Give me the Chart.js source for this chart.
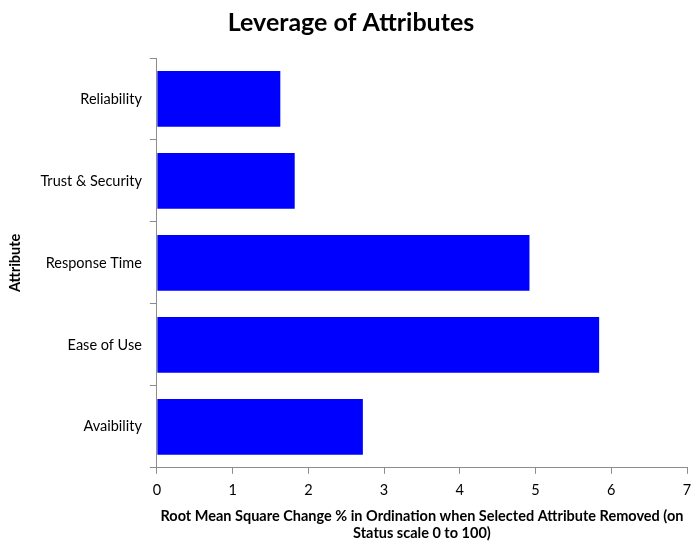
<!DOCTYPE html>
<html>
<head>
<meta charset="utf-8">
<title>Leverage of Attributes</title>
<script src="https://cdn.jsdelivr.net/npm/chart.js@4/dist/chart.umd.min.js"></script>
<style>
  html, body { margin: 0; padding: 0; background: #fff; }
  #wrap { width: 695px; height: 542px; }
</style>
</head>
<body>
<div id="wrap"><canvas id="graficoAtributos"></canvas></div>
<script>
var atributos = ['Reliability', 'Trust & Security', 'Response Time', 'Ease of Use', 'Avaibility'];
var valores = [1.63, 1.82, 4.92, 5.84, 2.72];
var tituloX = ['Root Mean Square Change % in Ordination when Selected Attribute Removed (on', 'Status scale 0 to 100)'];

var fonte = "Lato, 'Open Sans', sans-serif";
var cinza = '#8c8c8c';

var ctx = document.getElementById('graficoAtributos').getContext('2d');
var grafico = new Chart(ctx, {
    type: 'bar',
    data: {
        labels: atributos,
        datasets: [{
            label: 'Leverage',
            data: valores,
            backgroundColor: 'rgb(0,0,255)',
            borderWidth: 0,
            barPercentage: 0.68,
            categoryPercentage: 1.0
        }]
    },
    options: {
        indexAxis: 'y',
        responsive: true,
        maintainAspectRatio: false,
        animation: false,
        layout: { padding: { left: 7, right: 0, top: 0, bottom: 0 } },
        plugins: {
            legend: { display: false },
            tooltip: { enabled: false },
            title: {
                display: true,
                text: 'Leverage of Attributes',
                color: '#000',
                font: { family: fonte, size: 25, weight: 'bold' },
                padding: { top: 8, bottom: 20 }
            }
        },
        scales: {
            x: {
                min: 0,
                max: 7,
                afterFit: function(escala) { escala.paddingRight = 8; },
                ticks: { stepSize: 1, color: '#000', font: { family: fonte, size: 14.5 }, padding: 8 },
                grid: { drawOnChartArea: false, drawTicks: true, tickLength: 6, color: cinza },
                border: { display: true, color: cinza, width: 1 },
                title: {
                    display: true,
                    text: tituloX,
                    color: '#000',
                    font: { family: fonte, size: 14.5, weight: 'bold', lineHeight: 1.2 },
                    padding: { top: 0, bottom: 0 }
                }
            },
            y: {
                ticks: { color: '#000', font: { family: fonte, size: 14.5 }, padding: 8 },
                grid: { drawOnChartArea: false, drawTicks: true, tickLength: 7, color: cinza, offset: true },
                border: { display: true, color: cinza, width: 1 },
                title: {
                    display: true,
                    text: 'Attribute',
                    color: '#000',
                    font: { family: fonte, size: 14.5, weight: 'bold' },
                    padding: { top: 0, bottom: 8 }
                }
            }
        }
    }
});
</script>
</body>
</html>
